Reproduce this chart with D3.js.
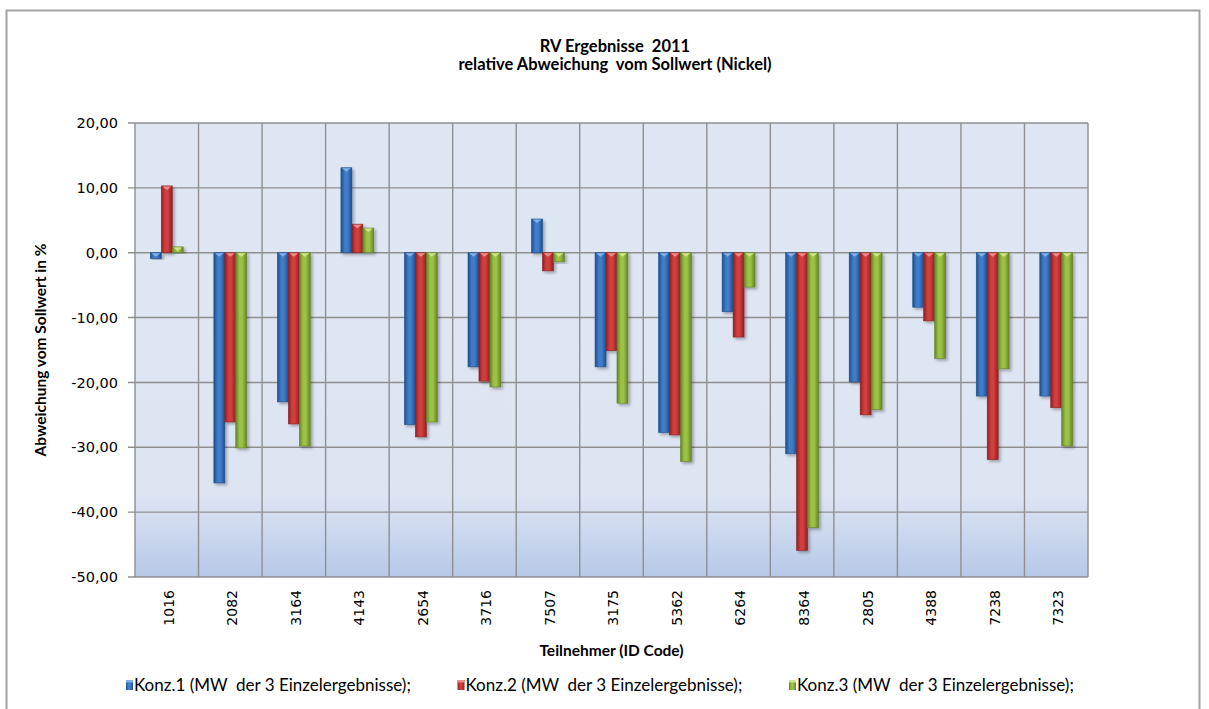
<!DOCTYPE html>
<html>
<head>
<meta charset="utf-8">
<script src="https://cdn.jsdelivr.net/npm/d3@7"></script>
<style>
  body { margin: 0; background: #fff; }
  svg text { white-space: pre; }
  .title { font-family: Lato, "Open Sans", sans-serif; font-weight: bold; font-size: 16.5px; fill: #000; }
  .axis-title { font-family: Lato, "Open Sans", sans-serif; font-weight: bold; font-size: 15.5px; fill: #000; }
  .tick-label { font-family: "DejaVu Sans", sans-serif; font-size: 14.5px; fill: #000; }
  .legend-label { font-family: Lato, "Open Sans", sans-serif; font-size: 17px; fill: #000; }
</style>
</head>
<body>
<div id="chart"></div>
<script>
const categories = ['1016', '2082', '3164', '4143', '2654', '3716', '7507', '3175', '5362', '6264', '8364', '2805', '4388', '7238', '7323'];
const konz1 = [-0.9, -35.5, -23.0, 13.1, -26.5, -17.6, 5.2, -17.6, -27.7, -9.1, -31.0, -19.9, -8.4, -22.1, -22.1];
const konz2 = [10.3, -26.1, -26.4, 4.4, -28.4, -19.8, -2.8, -15.1, -28.1, -13.0, -45.9, -25.0, -10.5, -31.9, -23.9];
const konz3 = [0.9, -30.1, -29.8, 3.8, -26.1, -20.7, -1.4, -23.2, -32.2, -5.3, -42.4, -24.2, -16.3, -17.9, -29.8];
const seriesNames = ['Konz.1 (MW  der 3 Einzelergebnisse);', 'Konz.2 (MW  der 3 Einzelergebnisse);', 'Konz.3 (MW  der 3 Einzelergebnisse);'];
const yTicks = [20, 10, 0, -10, -20, -30, -40, -50];
const titleLines = ['RV Ergebnisse  2011', 'relative Abweichung  vom Sollwert (Nickel)'];

const width = 1209;
const height = 709;
const plot = { left: 135, right: 1088, top: 123, bottom: 577 };

// edge / middle / highlight shades for each series
const palette = [
  { dark: '#1f4f8c', mid: '#3f7cc9', light: '#7fb0ea' },
  { dark: '#8a2224', mid: '#d23d3c', light: '#f08a86' },
  { dark: '#64832a', mid: '#9cc244', light: '#cde58a' }
];

let svg = d3.select('#chart').append('svg')
  .attr('width', width)
  .attr('height', height);

let defs = svg.append('defs');

let bg = defs.append('linearGradient')
  .attr('id', 'plot-bg')
  .attr('x1', 0).attr('y1', 0).attr('x2', 0).attr('y2', 1);
bg.append('stop').attr('offset', '0%').attr('stop-color', '#dfe6f3');
bg.append('stop').attr('offset', '82%').attr('stop-color', '#dde5f3');
bg.append('stop').attr('offset', '100%').attr('stop-color', '#b6c8e8');

palette.forEach((c, i) => {
  let g = defs.append('linearGradient')
    .attr('id', `bar-${i}`)
    .attr('x1', 0).attr('y1', 0).attr('x2', 1).attr('y2', 0);
  g.append('stop').attr('offset', '0%').attr('stop-color', c.dark);
  g.append('stop').attr('offset', '35%').attr('stop-color', c.mid);
  g.append('stop').attr('offset', '60%').attr('stop-color', c.mid);
  g.append('stop').attr('offset', '100%').attr('stop-color', c.dark);
});

let shadow = defs.append('filter')
  .attr('id', 'shadow')
  .attr('x', '-30%').attr('y', '-10%').attr('width', '180%').attr('height', '130%');
shadow.append('feDropShadow')
  .attr('dx', 2).attr('dy', 2)
  .attr('stdDeviation', 1.5)
  .attr('flood-color', '#000')
  .attr('flood-opacity', 0.3);

// Chart frame.
svg.append('rect')
  .attr('x', 6.5).attr('y', 10.5)
  .attr('width', 1193).attr('height', 720)
  .attr('fill', 'none')
  .attr('stroke', '#a3a3a3')
  .attr('stroke-width', 2);

// Title.
svg.selectAll('text.title')
  .data(titleLines)
  .enter()
  .append('text')
    .attr('class', 'title')
    .attr('x', 615)
    .attr('y', (d, i) => 52 + i * 18)
    .attr('text-anchor', 'middle')
    .text(d => d);

let x0 = d3.scaleBand()
  .domain(categories)
  .range([plot.left, plot.right])
  .paddingInner(0)
  .paddingOuter(0);

let x1 = d3.scaleBand()
  .domain([0, 1, 2])
  .range([0, x0.bandwidth()])
  .paddingInner(0)
  .paddingOuter(1.4);

let y = d3.scaleLinear()
  .domain([-50, 20])
  .range([plot.bottom, plot.top]);

let fmt = v => v.toFixed(2).replace('.', ',');

// Plot background.
svg.append('rect')
  .attr('x', plot.left)
  .attr('y', plot.top)
  .attr('width', plot.right - plot.left)
  .attr('height', plot.bottom - plot.top)
  .attr('fill', 'url(#plot-bg)');

let grid = svg.append('g')
  .attr('stroke', '#8f8f8f')
  .attr('stroke-width', 1.4);

// Horizontal gridlines with tick marks to the left.
grid.selectAll('line.h')
  .data(yTicks)
  .enter()
  .append('line')
    .attr('x1', plot.left - 7)
    .attr('x2', plot.right)
    .attr('y1', d => y(d))
    .attr('y2', d => y(d));

// Vertical gridlines at category boundaries.
let bounds = categories.map(c => x0(c)).concat([plot.right]);
grid.selectAll('line.v')
  .data(bounds)
  .enter()
  .append('line')
    .attr('x1', d => d)
    .attr('x2', d => d)
    .attr('y1', plot.top)
    .attr('y2', plot.bottom);

svg.append('g')
  .selectAll('text')
  .data(yTicks)
  .enter()
  .append('text')
    .attr('class', 'tick-label')
    .attr('x', 118)
    .attr('y', d => y(d))
    .attr('dy', '0.35em')
    .attr('text-anchor', 'end')
    .text(d => fmt(d));

svg.append('g')
  .selectAll('text')
  .data(categories)
  .enter()
  .append('text')
    .attr('class', 'tick-label')
    .attr('transform', d => `translate(${x0(d) + x0.bandwidth() / 2 + 2},590) rotate(-90)`)
    .attr('dy', '0.35em')
    .attr('text-anchor', 'end')
    .style('font-size', '14px')
    .text(d => d);

// Bars.
let series = [konz1, konz2, konz3];
let rows = [];
categories.forEach((c, ci) => {
  series.forEach((s, si) => rows.push({ cat: c, s: si, value: s[ci] }));
});

let bars = svg.append('g')
  .selectAll('g.bar')
  .data(rows)
  .enter()
  .append('g')
    .attr('class', 'bar')
    .attr('filter', 'url(#shadow)');

let barX = d => x0(d.cat) + x1(d.s);
let barTop = d => y(Math.max(0, d.value));
let barH = d => Math.abs(y(d.value) - y(0));

bars.append('rect')
  .attr('x', barX)
  .attr('y', barTop)
  .attr('width', x1.bandwidth())
  .attr('height', barH)
  .attr('fill', d => `url(#bar-${d.s})`)
  .attr('stroke', d => palette[d.s].dark)
  .attr('stroke-width', 0.6);

// Bevelled cap at the top of each bar.
bars.filter(d => barH(d) > 3)
  .append('path')
    .attr('d', d => {
      let x = barX(d), t = barTop(d), w = x1.bandwidth();
      return `M${x + 1},${t + 0.5} L${x + w - 1},${t + 0.5} L${x + w / 2},${t + 4} Z`;
    })
    .attr('fill', d => palette[d.s].light);

// Axis titles.
svg.append('text')
  .attr('class', 'axis-title')
  .attr('transform', `translate(46,${(plot.top + plot.bottom) / 2}) rotate(-90)`)
  .attr('text-anchor', 'middle')
  .text('Abweichung vom Sollwert in %');

svg.append('text')
  .attr('class', 'axis-title')
  .attr('x', (plot.left + plot.right) / 2)
  .attr('y', 656)
  .attr('text-anchor', 'middle')
  .text('Teilnehmer (ID Code)');

// Legend.
let legend = svg.append('g')
  .selectAll('g')
  .data(seriesNames)
  .enter()
  .append('g')
    .attr('transform', (d, i) => `translate(${126 + i * 331.5},680)`);

legend.append('rect')
  .attr('width', 7)
  .attr('height', 10)
  .attr('fill', (d, i) => `url(#bar-${i})`);

legend.append('rect')
  .attr('width', 7)
  .attr('height', 2.5)
  .attr('fill', (d, i) => palette[i].light);

legend.append('text')
  .attr('class', 'legend-label')
  .attr('x', 8)
  .attr('y', 5)
  .attr('dy', '0.35em')
  .text(d => d);
</script>
</body>
</html>
